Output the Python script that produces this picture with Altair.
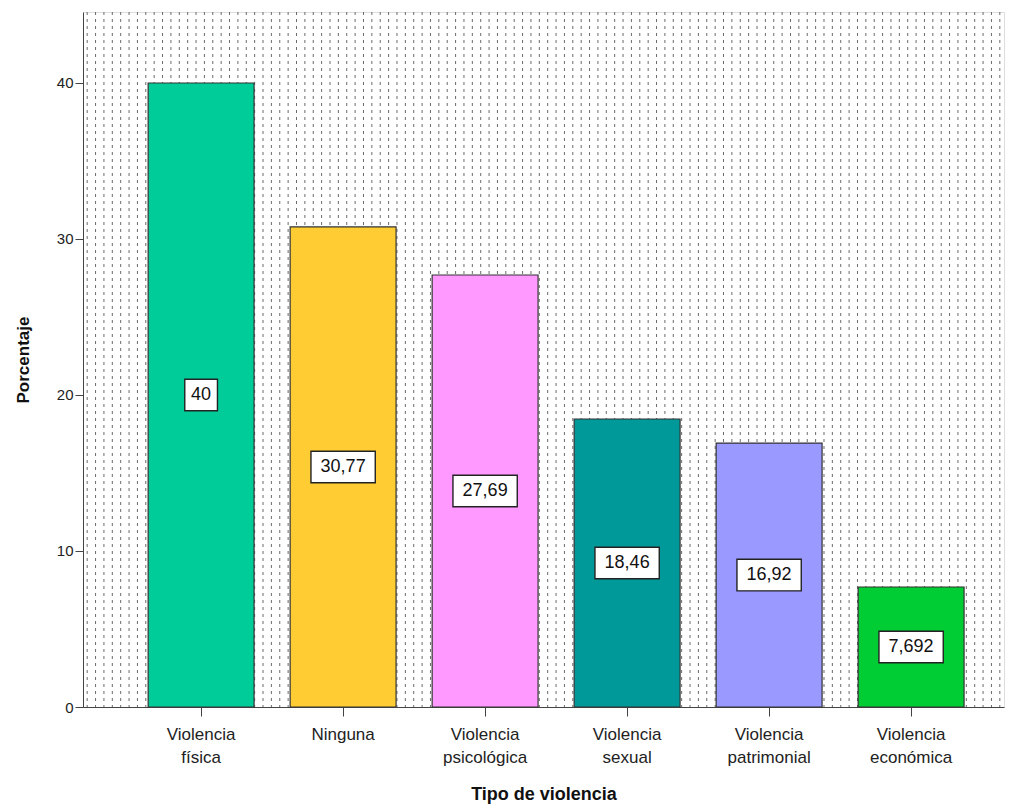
import altair as alt
import pandas as pd

categories = ["Violencia\nfísica", "Ninguna", "Violencia\npsicológica", "Violencia\nsexual",
              "Violencia\npatrimonial", "Violencia\neconómica"]
values = [40, 30.77, 27.69, 18.46, 16.92, 7.692]
labels = ["40", "30,77", "27,69", "18,46", "16,92", "7,692"]
colors = ["#00CC99", "#FFCC33", "#FF99FF", "#009999", "#9999FF", "#00CC33"]
y_ticks = [0, 10, 20, 30, 40]

def box_path(text):
    w = 10 * len(text) + 11
    hw = (w / 2) / 15.0
    return f"M{-hw},-1L{hw},-1L{hw},1L{-hw},1Z"

df = pd.DataFrame({
    "cat": categories,
    "val": values,
    "lab": labels,
    "col": colors,
})
df["mid"] = df["val"] / 2
df["shape"] = [box_path(t) for t in labels]

FONT = "Arial"

xscale = alt.Scale(domain=categories, paddingInner=0.254, paddingOuter=0.37, align=0.62)
yscale = alt.Scale(domain=[0, 44.55], nice=False, zero=True)

xenc = alt.X("cat:N", scale=xscale, sort=categories,
             axis=alt.Axis(title="Tipo de violencia", labelAngle=0,
                           labelExpr="split(datum.label, '\\n')",
                           labelFontSize=17, labelColor="#222222", labelFont=FONT,
                           labelLineHeight=23, labelPadding=10,
                           tickSize=9, tickColor="#444444", domainColor="#444444",
                           titleFont=FONT, titleFontSize=18, titleFontWeight="bold",
                           titleColor="#111111", titlePadding=20))

bg = alt.Chart(pd.DataFrame({"i": list(range(0, 110))})).mark_rule(
    color="#6a6a6a", strokeWidth=1, strokeDash=[3, 4]
).encode(
    x=alt.X("i:Q", scale=alt.Scale(domain=[-0.5, 109.5], nice=False, zero=False), axis=None)
)

bars = alt.Chart(df).mark_bar(stroke="#333333", strokeWidth=1.2, opacity=1).encode(
    x=xenc,
    y=alt.Y("val:Q", scale=yscale,
            axis=alt.Axis(title="Porcentaje", values=y_ticks, grid=False,
                          labelFontSize=15, labelColor="#222222", labelFont=FONT,
                          tickSize=8, tickColor="#444444", domainColor="#444444",
                          labelPadding=2,
                          titleFont=FONT, titleFontSize=17, titleFontWeight="bold",
                          titleColor="#111111", titlePadding=24)),
    color=alt.Color("col:N", scale=None),
)

boxes = alt.Chart(df).mark_point(fill="white", stroke="#222222", strokeWidth=1.4,
                                 filled=False, opacity=1, fillOpacity=1).encode(
    x=alt.X("cat:N", scale=xscale, sort=categories),
    y=alt.Y("mid:Q", scale=yscale),
    shape=alt.Shape("shape:N", scale=None),
    size=alt.value(1000),
)

texts = alt.Chart(df).mark_text(font=FONT, fontSize=18, color="#111111",
                                baseline="middle", align="center").encode(
    x=alt.X("cat:N", scale=xscale, sort=categories),
    y=alt.Y("mid:Q", scale=yscale),
    text="lab:N",
)

front = alt.layer(bars, boxes, texts)

chart = alt.layer(bg, front).resolve_scale(x="independent").properties(
    width=921, height=695,
    autosize=alt.AutoSizeParams(type="none"),
    padding={"left": 75, "top": 4, "right": 2, "bottom": 100},
).configure_view(stroke="#333333", strokeWidth=1.5).configure(font=FONT)

chart.save("out.html", embed_options={"renderer": "svg", "actions": False})
